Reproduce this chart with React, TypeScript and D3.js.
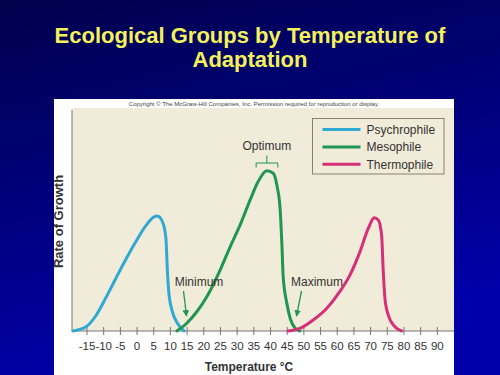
import React from "react";
import * as d3 from "d3";

const tickTemps = [-15, -10, -5, 0, 5, 10, 15, 20, 25, 30, 35, 40, 45, 50, 55, 60, 65, 70, 75, 80, 85, 90];

const psychroTemp = [-19.2, -15.3, -12.3, -9.3, -6.3, -3.3, -0.3, 2.7, 5.1, 6.1, 7.6, 8.65, 9.1, 9.6, 10.6, 12.1, 14.1];
const psychroRate = [0, 1.9, 7.0, 15.2, 24.0, 32.6, 40.6, 47.8, 51.6, 52, 49.5, 42, 26.8, 16.3, 8.7, 3.5, 0];

const mesoTemp = [11.9, 14.9, 17.9, 20.9, 24.9, 27.9, 30.9, 33.9, 36.3, 38.9, 40.8, 42.0, 42.9, 43.4, 43.8, 44.9, 45.9, 47.4, 48.8];
const mesoRate = [0, 3.5, 8.7, 15.5, 27.6, 38.1, 48, 59.3, 67.6, 72.5, 71.4, 65.3, 54.8, 39.7, 24.6, 12.5, 5.7, 1.2, 0];

const thermoTemp = [45.3, 48.8, 52.8, 56.9, 60.8, 63.8, 66.8, 69.3, 71.1, 72.3, 73.3, 73.8, 74.3, 75.3, 77.3, 79.3];
const thermoRate = [0, 1.2, 5.0, 10.3, 17.9, 25.3, 35.8, 46.4, 51.2, 50.2, 43.4, 26.8, 14.8, 7.2, 1.9, 0];

const seriesNames = ["Psychrophile", "Mesophile", "Thermophile"];
const seriesColors = ["#2fa9d2", "#1f9651", "#d4307a"];

const FONT = "'Liberation Sans', Arial, Helvetica, sans-serif";

export default function App() {
  const W = 500, H = 375;
  const x = d3.scaleLinear().domain([-19.5, 95]).range([72, 454]);
  const y = d3.scaleLinear().domain([0, 100]).range([331, 110]);
  const line = d3
    .line<[number, number]>()
    .x((d) => x(d[0]))
    .y((d) => y(d[1]))
    .curve(d3.curveMonotoneX);

  const series = [
    psychroTemp.map((t, i) => [t, psychroRate[i]] as [number, number]),
    mesoTemp.map((t, i) => [t, mesoRate[i]] as [number, number]),
    thermoTemp.map((t, i) => [t, thermoRate[i]] as [number, number]),
  ];

  const optX = x(38.9);
  const bl = x(35.7), br = x(42.2);

  return (
    <svg width={W} height={H} style={{ position: "fixed", left: 0, top: 0 }} fontFamily={FONT}>
      <defs>
        <linearGradient id="bg" x1="0" y1="0" x2="0.3" y2="1">
          <stop offset="0" stopColor="#00004c" />
          <stop offset="1" stopColor="#0000aa" />
        </linearGradient>
        <marker id="arr" viewBox="0 0 10 10" refX="9" refY="5" markerWidth="5" markerHeight="5" orient="auto">
          <path d="M0,0 L10,5 L0,10 z" fill="#1f9651" />
        </marker>
      </defs>
      <rect x={0} y={0} width={W} height={H} fill="url(#bg)" />
      <text x={250} y={42.5} textAnchor="middle" fill="#f4f25a" fontWeight="bold" fontSize={22}>
        Ecological Groups by Temperature of
      </text>
      <text x={250} y={67} textAnchor="middle" fill="#f4f25a" fontWeight="bold" fontSize={22}>
        Adaptation
      </text>

      {/* panel */}
      <rect x={54} y={99} width={400} height={276} fill="#ffffff" />
      <rect x={72} y={108} width={382} height={223} fill="#f1ebd9" />
      <text x={254} y={106} textAnchor="middle" fontSize={6} fill="#444">
        Copyright © The McGraw-Hill Companies, Inc. Permission required for reproduction or display.
      </text>

      {/* axes */}
      <line x1={72} x2={72} y1={110} y2={331} stroke="#777" strokeWidth={1} />
      <line x1={72} x2={454} y1={331} y2={331} stroke="#777" strokeWidth={1} />
      {tickTemps.map((t) => (
        <g key={t}>
          <line x1={x(t)} x2={x(t)} y1={327} y2={335} stroke="#777" strokeWidth={1} />
          <text x={x(t)} y={350} textAnchor="middle" fontSize={11.5} fill="#333">
            {t}
          </text>
        </g>
      ))}
      <text x={249} y={371} textAnchor="middle" fontSize={12} fontWeight="bold" fill="#333">
        Temperature °C
      </text>
      <text
        transform={`translate(63,221.5) rotate(-90)`}
        textAnchor="middle"
        fontSize={13}
        fontWeight="bold"
        fill="#333"
      >
        Rate of Growth
      </text>

      {/* curves */}
      {series.map((s, i) => (
        <path key={i} d={line(s) || ""} fill="none" stroke={seriesColors[i]} strokeWidth={3} strokeLinecap="round" strokeLinejoin="round" />
      ))}

      {/* annotations */}
      <text x={optX} y={150} textAnchor="middle" fontSize={12} fill="#333">
        Optimum
      </text>
      <path
        d={`M${bl},167.5 V163 H${br} V167.5 M${optX},163 V155.5`}
        fill="none"
        stroke="#1f9651"
        strokeWidth={1}
      />
      <text x={199} y={286} textAnchor="middle" fontSize={12} fill="#333">
        Minimum
      </text>
      <line x1={183.5} y1={291} x2={186.5} y2={316} stroke="#1f9651" strokeWidth={1.3} markerEnd="url(#arr)" />
      <text x={317} y={286} textAnchor="middle" fontSize={12} fill="#333">
        Maximum
      </text>
      <line x1={301.5} y1={291} x2={296.5} y2={316} stroke="#1f9651" strokeWidth={1.3} markerEnd="url(#arr)" />

      {/* legend */}
      <rect x={312.5} y={118.5} width={131.5} height={55.5} fill="none" stroke="#8c8170" strokeWidth={1} />
      {seriesNames.map((n, i) => (
        <g key={n}>
          <line x1={322.5} x2={360.5} y1={129.5 + i * 17.4} y2={129.5 + i * 17.4} stroke={seriesColors[i]} strokeWidth={3} />
          <text x={366.5} y={133.8 + i * 17.4} fontSize={12} fill="#333">
            {n}
          </text>
        </g>
      ))}
    </svg>
  );
}
